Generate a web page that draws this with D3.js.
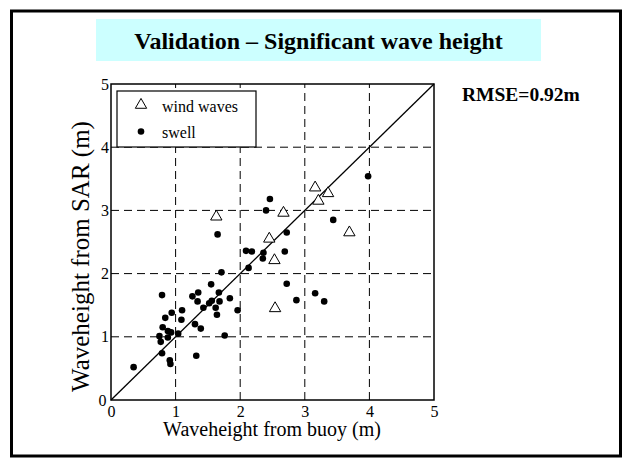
<!DOCTYPE html>
<html>
<head>
<meta charset="utf-8">
<script src="https://cdn.jsdelivr.net/npm/d3@7"></script>
<style>
  html, body { margin: 0; padding: 0; background: #fff; }
  svg { display: block; }
  svg text { font-family: "Liberation Serif", "Times New Roman", serif; fill: #000; }
</style>
</head>
<body>
<svg id="chart" width="623" height="461"></svg>
<script>
// Buoy-measured vs SAR-derived significant wave height (m)
const windBuoy = [1.63, 2.45, 2.53, 2.54, 2.67, 3.16, 3.21, 3.36, 3.69];
const windSar  = [2.90, 2.55, 2.21, 1.45, 2.96, 3.36, 3.15, 3.27, 2.65];

const swellBuoy = [0.35, 0.79, 0.75, 0.77, 0.79, 0.80, 0.84, 0.88, 0.88, 0.93,
                   0.91, 0.92, 0.94, 1.04, 1.10, 1.09, 1.26, 1.35, 1.34, 1.30,
                   1.39, 1.32, 1.43, 1.52, 1.56, 1.55, 1.62, 1.64, 1.67, 1.68,
                   1.71, 1.76, 1.84, 1.96, 1.65, 2.13, 2.09, 2.18, 2.36, 2.35,
                   2.40, 2.46, 2.69, 2.72, 2.72, 2.87, 3.16, 3.30, 3.44, 3.98];
const swellSar  = [0.52, 1.66, 1.01, 0.92, 0.74, 1.15, 1.30, 1.09, 0.99, 1.07,
                   0.63, 0.57, 1.38, 1.05, 1.42, 1.27, 1.64, 1.70, 1.56, 1.20,
                   1.13, 0.70, 1.46, 1.53, 1.57, 1.83, 1.46, 1.35, 1.70, 1.56,
                   2.02, 1.02, 1.61, 1.42, 2.62, 2.09, 2.36, 2.35, 2.33, 2.24,
                   3.00, 3.18, 2.35, 2.65, 1.84, 1.58, 1.69, 1.56, 2.85, 3.54];

const tickValues = [0, 1, 2, 3, 4, 5];
const gridValues = [1, 2, 3, 4];
const identityLine = [0, 5];

const titleText = "Validation \u2013 Significant wave height";
const rmseText = "RMSE=0.92m";
const xLabel = "Waveheight from buoy (m)";
const yLabel = "Waveheight from SAR (m)";
const legendLabels = ["wind waves", "swell"];

const svg = d3.select("#chart");

// outer frame
svg.append("rect")
  .attr("x", 11.5).attr("y", 11).attr("width", 609).attr("height", 445)
  .attr("fill", "none").attr("stroke", "#000").attr("stroke-width", 3);

// title banner
svg.append("rect")
  .attr("x", 96).attr("y", 19).attr("width", 445).attr("height", 42)
  .attr("fill", "#ccffff");
svg.append("text")
  .attr("x", 318.5).attr("y", 49)
  .attr("text-anchor", "middle")
  .attr("font-size", 24).attr("font-weight", "bold")
  .text(titleText);

svg.append("text")
  .attr("x", 462).attr("y", 101)
  .attr("font-size", 19.5).attr("font-weight", "bold")
  .text(rmseText);

// plot area
const x = d3.scaleLinear().domain([0, 5]).range([111, 434]);
const y = d3.scaleLinear().domain([0, 5]).range([400, 84]);

const plot = svg.append("g");

// dashed grid
plot.selectAll("line.gx").data(gridValues).join("line")
  .attr("x1", d => x(d)).attr("x2", d => x(d))
  .attr("y1", y(0)).attr("y2", y(5))
  .attr("stroke", "#000").attr("stroke-width", 1)
  .attr("stroke-dasharray", "8,5");
plot.selectAll("line.gy").data(gridValues).join("line")
  .attr("y1", d => y(d)).attr("y2", d => y(d))
  .attr("x1", x(0)).attr("x2", x(5))
  .attr("stroke", "#000").attr("stroke-width", 1)
  .attr("stroke-dasharray", "8,5");

// 1:1 line
plot.append("line")
  .attr("x1", x(identityLine[0])).attr("y1", y(identityLine[0]))
  .attr("x2", x(identityLine[1])).attr("y2", y(identityLine[1]))
  .attr("stroke", "#000").attr("stroke-width", 1.3);

// swell points
plot.selectAll("circle.swell").data(swellBuoy).join("circle")
  .attr("class", "swell")
  .attr("cx", d => x(d))
  .attr("cy", (d, i) => y(swellSar[i]))
  .attr("r", 3.3)
  .attr("fill", "#000");

// wind-wave triangles
const tri = d3.symbol().type(d3.symbolTriangle).size(56);
plot.selectAll("path.wind").data(windBuoy).join("path")
  .attr("class", "wind")
  .attr("d", tri)
  .attr("transform", (d, i) => `translate(${x(d)},${y(windSar[i])})`)
  .attr("fill", "#fff").attr("stroke", "#000").attr("stroke-width", 1);

// axes tick labels
const xAxis = d3.axisBottom(x).tickValues(tickValues).tickSize(0).tickPadding(5.3)
  .tickFormat(d3.format("d"));
const gx = svg.append("g").attr("transform", `translate(0,${y(0)})`).call(xAxis);
gx.attr("font-family", null);
gx.select(".domain").remove();
gx.selectAll("text").attr("font-size", 16);

const yAxis = d3.axisLeft(y).tickValues(tickValues).tickSize(0).tickPadding(2)
  .tickFormat(d3.format("d"));
const gy = svg.append("g").attr("transform", `translate(${x(0)},0)`).call(yAxis);
gy.attr("font-family", null);
gy.select(".domain").remove();
gy.selectAll("text").attr("font-size", 16);
gy.selectAll(".tick").filter(d => d === 0).select("text").attr("dx", "-0.15em");

svg.append("rect")
  .attr("x", x(0)).attr("y", y(5))
  .attr("width", x(5) - x(0)).attr("height", y(0) - y(5))
  .attr("fill", "none").attr("stroke", "#000").attr("stroke-width", 1.5);

// legend
const lg = svg.append("g");
lg.append("rect")
  .attr("x", 117).attr("y", 91).attr("width", 139).attr("height", 56)
  .attr("fill", "#fff").attr("stroke", "#000").attr("stroke-width", 1.2);
lg.append("path")
  .attr("d", tri)
  .attr("transform", "translate(141,105)")
  .attr("fill", "#fff").attr("stroke", "#000").attr("stroke-width", 1);
lg.append("circle").attr("cx", 141).attr("cy", 131.5).attr("r", 3.3).attr("fill", "#000");
lg.selectAll("text").data(legendLabels).join("text")
  .attr("x", 162)
  .attr("y", (d, i) => 111.5 + i * 26)
  .attr("font-size", 16)
  .text(d => d);

// axis titles
svg.append("text")
  .attr("x", 272).attr("y", 436)
  .attr("text-anchor", "middle")
  .attr("font-size", 20)
  .text(xLabel);
svg.append("text")
  .attr("transform", "translate(89,256.5) rotate(-90)")
  .attr("text-anchor", "middle")
  .attr("font-size", 25)
  .text(yLabel);
</script>
</body>
</html>
